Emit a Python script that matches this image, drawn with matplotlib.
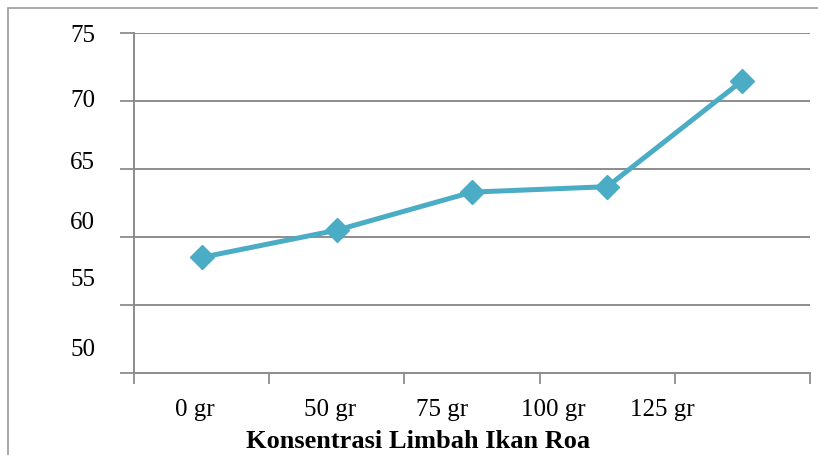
import matplotlib
matplotlib.use("Agg")
import matplotlib.pyplot as plt
from matplotlib.patches import Rectangle
from matplotlib.ticker import NullFormatter

# Data
categories = ["0 gr", "50 gr", "75 gr", "100 gr", "125 gr"]
values = [58.5, 60.5, 63.3, 63.7, 71.5]
y_ticks = [50, 55, 60, 65, 70, 75]
y_tick_labels = ["50", "55", "60", "65", "70", "75"]
x_title = "Konsentrasi Limbah Ikan Roa"

# Layout: where the text labels sit along each axis (data units)
x_label_pos = [0.95, 1.95, 2.78, 3.60, 4.41]
y_label_pos = [51.9, 57.0, 61.2, 65.6, 70.2, 74.97]

line_color = "#4BACC6"
grid_color = "#8C8C8C"

plt.rcParams["font.family"] = ["Liberation Serif", "DejaVu Serif"]

fig = plt.figure(figsize=(8.18, 4.55), dpi=100)
ax = fig.add_axes([134 / 818, 1 - 373 / 455, (810 - 134) / 818, 340 / 455])

x = list(range(1, len(values) + 1))
ax.plot(x, values, color=line_color, lw=3.6, marker="D", ms=12,
        markeredgecolor=line_color, markerfacecolor=line_color, zorder=3,
        solid_capstyle="round")

ax.set_xlim(0.5, len(values) + 0.5)
ax.set_ylim(50, 75)

# Gridlines at the value ticks
for v in y_ticks[1:]:
    ax.axhline(v, color=grid_color, lw=1.4, zorder=1)

# Value axis: ticks at the gridlines, text labels on the minor positions
ax.set_yticks(y_ticks)
ax.yaxis.set_major_formatter(NullFormatter())
ax.set_yticks(y_label_pos, minor=True)
ax.set_yticklabels(y_tick_labels, minor=True, fontsize=18)
ax.yaxis.set_remove_overlapping_locs(False)
ax.tick_params(axis="y", which="major", direction="out", length=10, width=1.3,
               color=grid_color)
ax.tick_params(axis="y", which="minor", length=0, pad=28)

# Category axis: ticks at the boundaries, labels on the minor positions
ax.set_xticks([i + 0.5 for i in range(len(values) + 1)])
ax.xaxis.set_major_formatter(NullFormatter())
ax.set_xticks(x_label_pos, minor=True)
ax.set_xticklabels(categories, minor=True, fontsize=18)
ax.tick_params(axis="x", which="major", direction="out", length=8, width=1.3,
               color=grid_color)
ax.tick_params(axis="x", which="minor", length=0, pad=19)

ax.set_xlabel(x_title, fontsize=19, fontweight="bold")
ax.xaxis.set_label_coords((418 - 134) / (810 - 134), -(430 - 373) / 340)

for side in ["top", "right"]:
    ax.spines[side].set_visible(False)
for side in ["left", "bottom"]:
    ax.spines[side].set_color(grid_color)
    ax.spines[side].set_linewidth(1.4)

# Outer chart frame
fig.patches.append(Rectangle((8 / 818, -0.1), 1.2, 1 - 8 / 455 + 0.1,
                             transform=fig.transFigure, fill=False,
                             edgecolor="#9A9A9A", lw=1.2))

fig.savefig("out.png", dpi=100)
